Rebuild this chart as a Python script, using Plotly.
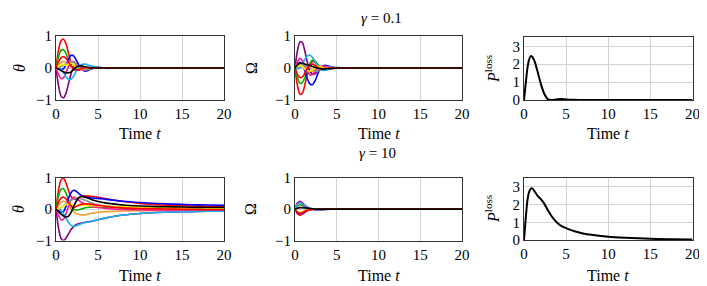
import plotly.graph_objects as go

# the page body adds an 8 px margin; the figure is sized and placed to compensate
OFF = 8
W, H = 707 - OFF, 286 - OFF

# ---------------- data ----------------
T = [0, 0.3, 0.6, 0.9, 1.2, 1.5, 1.8, 2.1, 2.4, 2.7, 3.0, 3.5, 4.0, 4.5, 5.0, 6.0, 7.0, 8.0, 10, 12, 14, 16, 18, 20]

series_names = ["red", "green", "blue", "orange", "purple", "magenta", "cyan", "gray", "yellow", "red2", "black"]
series_colors = ["#ff0000", "#00b400", "#0000ff", "#f0a030", "#800080", "#ff1493", "#1ab0f0", "#909090", "#f5f500", "#ff0000", "#000000"]

# theta, gamma = 0.1
theta_g01 = {
    "red":     [0, 0.55, 0.85, 0.9, 0.75, 0.45, 0.15, -0.03, -0.08, -0.07, -0.04, 0.0, 0.02, 0.01, 0, 0, 0, 0, 0, 0, 0, 0, 0, 0],
    "green":   [0, 0.35, 0.55, 0.57, 0.45, 0.25, 0.08, -0.02, -0.05, -0.04, -0.02, 0.01, 0.01, 0, 0, 0, 0, 0, 0, 0, 0, 0, 0, 0],
    "blue":    [0, -0.03, -0.05, -0.02, 0.1, 0.28, 0.4, 0.38, 0.25, 0.1, -0.02, -0.1, -0.05, 0.0, 0.02, 0, 0, 0, 0, 0, 0, 0, 0, 0],
    "orange":  [0, 0.1, 0.18, 0.2, 0.15, 0.08, 0.05, 0.08, 0.1, 0.05, -0.02, -0.05, -0.02, 0, 0, 0, 0, 0, 0, 0, 0, 0, 0, 0],
    "purple":  [0, -0.55, -0.88, -0.93, -0.78, -0.48, -0.17, 0.02, 0.08, 0.07, 0.04, 0.0, -0.02, -0.01, 0, 0, 0, 0, 0, 0, 0, 0, 0, 0],
    "magenta": [0, -0.2, -0.33, -0.3, -0.15, 0.05, 0.18, 0.2, 0.12, 0.02, -0.05, -0.05, 0.0, 0.02, 0.01, 0, 0, 0, 0, 0, 0, 0, 0, 0],
    "cyan":    [0, 0.02, -0.05, -0.15, -0.28, -0.36, -0.35, -0.25, -0.1, 0.03, 0.1, 0.12, 0.08, 0.05, 0.02, -0.01, 0, 0, 0, 0, 0, 0, 0, 0],
    "gray":    [0, 0.02, 0.05, 0.08, 0.12, 0.18, 0.2, 0.18, 0.12, 0.05, -0.02, -0.05, -0.03, 0, 0.01, 0, 0, 0, 0, 0, 0, 0, 0, 0],
    "yellow":  [0, 0.05, 0.1, 0.1, 0.08, 0.12, 0.15, 0.1, 0.02, -0.03, -0.03, 0, 0.01, 0, 0, 0, 0, 0, 0, 0, 0, 0, 0, 0],
    "red2":    [0, 0.2, 0.32, 0.35, 0.3, 0.18, 0.06, -0.02, -0.05, -0.04, -0.02, 0.01, 0, 0, 0, 0, 0, 0, 0, 0, 0, 0, 0, 0],
    "black":   [0, -0.03, -0.08, -0.12, -0.15, -0.15, -0.12, -0.05, 0.02, 0.06, 0.07, 0.04, 0.01, 0, 0, 0, 0, 0, 0, 0, 0, 0, 0, 0],
}

# Omega, gamma = 0.1
omega_g01 = {
    "red":     [0, -0.55, -0.82, -0.78, -0.5, -0.15, 0.1, 0.2, 0.18, 0.1, 0.03, -0.04, -0.04, -0.02, 0, 0, 0, 0, 0, 0, 0, 0, 0, 0],
    "green":   [0, -0.3, -0.48, -0.45, -0.28, -0.05, 0.15, 0.25, 0.22, 0.12, 0.03, -0.03, -0.03, -0.01, 0, 0, 0, 0, 0, 0, 0, 0, 0, 0],
    "blue":    [0, 0.12, 0.18, 0.1, -0.1, -0.35, -0.5, -0.52, -0.4, -0.2, -0.03, 0.08, 0.06, 0.02, 0, 0, 0, 0, 0, 0, 0, 0, 0, 0],
    "orange":  [0, 0.08, 0.1, 0.05, -0.05, -0.12, -0.15, -0.1, 0.0, 0.05, 0.05, 0.02, 0, 0, 0, 0, 0, 0, 0, 0, 0, 0, 0, 0],
    "purple":  [0, 0.55, 0.82, 0.78, 0.5, 0.15, -0.1, -0.2, -0.18, -0.1, -0.03, 0.04, 0.04, 0.02, 0, 0, 0, 0, 0, 0, 0, 0, 0, 0],
    "magenta": [0, 0.2, 0.3, 0.22, 0.05, -0.12, -0.22, -0.2, -0.1, 0.0, 0.05, 0.05, 0.02, 0, 0, 0, 0, 0, 0, 0, 0, 0, 0, 0],
    "cyan":    [0, -0.03, 0.0, 0.12, 0.28, 0.38, 0.4, 0.33, 0.2, 0.05, -0.05, -0.08, -0.04, 0.0, 0.02, 0, 0, 0, 0, 0, 0, 0, 0, 0],
    "gray":    [0, 0.02, 0.05, 0.08, 0.08, 0.05, 0.0, -0.05, -0.1, -0.1, -0.06, 0.0, 0.03, 0.02, 0, 0, 0, 0, 0, 0, 0, 0, 0, 0],
    "yellow":  [0, 0.05, 0.08, 0.05, -0.02, -0.08, -0.1, -0.05, 0.02, 0.05, 0.04, 0, 0, 0, 0, 0, 0, 0, 0, 0, 0, 0, 0, 0],
    "red2":    [0, -0.2, -0.3, -0.28, -0.15, 0.0, 0.1, 0.12, 0.08, 0.02, -0.02, -0.02, 0, 0, 0, 0, 0, 0, 0, 0, 0, 0, 0, 0],
    "black":   [0, 0.1, 0.15, 0.15, 0.12, 0.1, 0.08, 0.05, 0.02, 0.0, -0.02, -0.03, -0.02, -0.01, 0, 0, 0, 0, 0, 0, 0, 0, 0, 0],
}

# theta, gamma = 10
theta_g10 = {
    "red":     [0, 0.6, 0.93, 0.98, 0.82, 0.58, 0.4, 0.32, 0.32, 0.36, 0.4, 0.42, 0.41, 0.4, 0.38, 0.33, 0.28, 0.24, 0.18, 0.14, 0.12, 0.1, 0.09, 0.08],
    "green":   [0, 0.42, 0.63, 0.65, 0.5, 0.28, 0.1, 0.0, -0.03, -0.02, 0.0, 0.04, 0.06, 0.07, 0.07, 0.06, 0.05, 0.04, 0.03, 0.02, 0.01, 0.01, 0.0, 0.0],
    "blue":    [0, -0.05, -0.1, -0.08, 0.1, 0.35, 0.53, 0.6, 0.57, 0.5, 0.44, 0.38, 0.36, 0.35, 0.34, 0.31, 0.28, 0.25, 0.21, 0.18, 0.16, 0.14, 0.13, 0.12],
    "orange":  [0, 0.12, 0.22, 0.25, 0.2, 0.1, 0.0, -0.08, -0.14, -0.17, -0.18, -0.18, -0.15, -0.12, -0.1, -0.08, -0.07, -0.06, -0.05, -0.05, -0.04, -0.04, -0.04, -0.04],
    "purple":  [0, -0.6, -0.93, -1.0, -0.92, -0.78, -0.65, -0.56, -0.5, -0.47, -0.45, -0.42, -0.4, -0.37, -0.34, -0.28, -0.23, -0.19, -0.14, -0.11, -0.09, -0.08, -0.07, -0.06],
    "magenta": [0, -0.2, -0.34, -0.32, -0.15, 0.1, 0.3, 0.38, 0.35, 0.28, 0.22, 0.15, 0.1, 0.07, 0.05, 0.02, 0.0, -0.01, -0.02, -0.03, -0.03, -0.03, -0.03, -0.03],
    "cyan":    [0, 0.02, -0.05, -0.15, -0.3, -0.43, -0.52, -0.55, -0.53, -0.5, -0.47, -0.43, -0.4, -0.37, -0.34, -0.28, -0.23, -0.19, -0.14, -0.11, -0.09, -0.08, -0.07, -0.07],
    "gray":    [0, 0.02, 0.05, 0.1, 0.16, 0.22, 0.28, 0.32, 0.35, 0.35, 0.33, 0.28, 0.22, 0.17, 0.13, 0.09, 0.06, 0.05, 0.03, 0.03, 0.02, 0.02, 0.02, 0.02],
    "yellow":  [0, 0.03, 0.06, 0.1, 0.14, 0.16, 0.15, 0.13, 0.12, 0.12, 0.12, 0.12, 0.11, 0.11, 0.1, 0.09, 0.08, 0.07, 0.06, 0.05, 0.04, 0.04, 0.03, 0.03],
    "red2":    [0, 0.22, 0.35, 0.38, 0.32, 0.2, 0.1, 0.06, 0.08, 0.12, 0.15, 0.17, 0.16, 0.14, 0.12, 0.09, 0.06, 0.04, 0.02, 0.01, 0, -0.01, -0.02, -0.02],
    "black":   [0, -0.08, -0.16, -0.22, -0.25, -0.22, -0.1, 0.08, 0.25, 0.36, 0.4, 0.38, 0.33, 0.28, 0.24, 0.19, 0.16, 0.13, 0.1, 0.08, 0.07, 0.06, 0.05, 0.05],
}

# Omega, gamma = 10
omega_g10 = {
    "red":     [0, -0.15, -0.2, -0.16, -0.1, -0.05, -0.02, 0, 0.01, 0.01, 0, 0, 0, 0, 0, 0, 0, 0, 0, 0, 0, 0, 0, 0],
    "green":   [0, 0.1, 0.14, 0.12, 0.08, 0.04, 0.02, 0.0, -0.01, -0.01, 0, 0, 0, 0, 0, 0, 0, 0, 0, 0, 0, 0, 0, 0],
    "blue":    [0, -0.12, -0.15, -0.12, -0.07, -0.03, -0.01, 0.0, 0.01, 0.01, 0, 0, 0, 0, 0, 0, 0, 0, 0, 0, 0, 0, 0, 0],
    "orange":  [0, 0.05, 0.06, 0.05, 0.03, 0.01, 0, -0.01, -0.01, 0, 0, 0, 0, 0, 0, 0, 0, 0, 0, 0, 0, 0, 0, 0],
    "purple":  [0, 0.2, 0.25, 0.2, 0.12, 0.06, 0.02, 0.0, -0.02, -0.03, -0.03, -0.02, -0.01, 0, 0, 0, 0, 0, 0, 0, 0, 0, 0, 0],
    "magenta": [0, 0.18, 0.22, 0.16, 0.08, 0.02, -0.01, -0.02, -0.02, -0.01, 0, 0, 0, 0, 0, 0, 0, 0, 0, 0, 0, 0, 0, 0],
    "cyan":    [0, 0.15, 0.2, 0.17, 0.12, 0.07, 0.03, 0.0, -0.02, -0.02, -0.02, -0.01, 0, 0, 0, 0, 0, 0, 0, 0, 0, 0, 0, 0],
    "gray":    [0, 0.03, 0.04, 0.03, 0.02, 0.01, 0, 0, 0, 0, 0, 0, 0, 0, 0, 0, 0, 0, 0, 0, 0, 0, 0, 0],
    "yellow":  [0, -0.08, -0.1, -0.08, -0.05, -0.02, 0, 0.01, 0.01, 0, 0, 0, 0, 0, 0, 0, 0, 0, 0, 0, 0, 0, 0, 0],
    "red2":    [0, -0.1, -0.13, -0.1, -0.06, -0.03, -0.01, 0, 0, 0, 0, 0, 0, 0, 0, 0, 0, 0, 0, 0, 0, 0, 0, 0],
    "black":   [0, 0.03, 0.05, 0.05, 0.04, 0.03, 0.02, 0.01, 0.0, 0.0, 0, 0, 0, 0, 0, 0, 0, 0, 0, 0, 0, 0, 0, 0],
}

T_P = [0, 0.2, 0.4, 0.6, 0.8, 1.0, 1.3, 1.6, 2.0, 2.4, 2.8, 3.2, 3.6, 4.0, 4.5, 5, 6, 7, 8, 10, 12, 15, 20]
ploss_g01 = [0, 0.9, 1.75, 2.25, 2.45, 2.4, 2.1, 1.6, 0.9, 0.35, 0.06, 0.0, 0.01, 0.04, 0.05, 0.03, 0.01, 0, 0, 0, 0, 0, 0]
ploss_g10 = [0, 1.2, 2.2, 2.7, 2.88, 2.9, 2.7, 2.5, 2.3, 2.05, 1.7, 1.4, 1.15, 0.95, 0.78, 0.68, 0.5, 0.38, 0.3, 0.2, 0.14, 0.08, 0.04]

x_ticks = [0, 5, 10, 15, 20]
y_ticks_state = [-1, 0, 1]
y_ticks_state_text = ["\u22121", "0", "1"]
y_ticks_p = [0, 1, 2, 3]

# ---------------- figure ----------------
FONT = "Liberation Serif"
fig = go.Figure()

def px_x(p):
    return (p - OFF) / W

def px_y(p):
    return 1 - (p - OFF) / H

# panel boxes in screen pixels: (left, right, top, bottom)
boxes = {
    1: (56, 224, 36, 100),
    2: (295, 462, 36, 100),
    3: (524, 692.5, 37.3, 100),
    4: (56, 224, 177.7, 240.5),
    5: (295, 462, 177.7, 240.5),
    6: (524, 692.5, 177.7, 240.2),
}

def add_state(idx, data, width=1.6):
    for name, col in zip(series_names, series_colors):
        fig.add_trace(go.Scatter(
            x=T, y=data[name], mode="lines",
            line=dict(color=col, width=width, shape="spline", smoothing=0.8),
            xaxis=f"x{idx}", yaxis=f"y{idx}", showlegend=False, hoverinfo="skip"))

add_state(1, theta_g01)
add_state(2, omega_g01)
add_state(4, theta_g10)
add_state(5, omega_g10)
fig.add_trace(go.Scatter(x=T_P, y=ploss_g01, mode="lines",
                         line=dict(color="black", width=2, shape="spline", smoothing=0.6),
                         xaxis="x3", yaxis="y3", showlegend=False))
fig.add_trace(go.Scatter(x=T_P, y=ploss_g10, mode="lines",
                         line=dict(color="black", width=2, shape="spline", smoothing=0.6),
                         xaxis="x6", yaxis="y6", showlegend=False))

layout = dict(
    template="none",
    width=W, height=H, margin=dict(l=0, r=0, t=0, b=0, autoexpand=False),
    paper_bgcolor="white", plot_bgcolor="white",
    font=dict(family=FONT, size=14, color="black"),
)
for idx, (l, r, t, b) in boxes.items():
    xa = dict(domain=[px_x(l), px_x(r)], range=[0, 20], tickvals=x_ticks,
              showgrid=True, gridcolor="#d3d3d3", gridwidth=1,
              showline=True, linecolor="#333333", linewidth=1, mirror=True,
              zeroline=False, ticks="", automargin=False, anchor=f"y{idx}",
              tickfont=dict(size=15, family=FONT))
    if idx in (3, 6):
        ya = dict(domain=[px_y(b), px_y(t)], range=[0, 3.5], tickvals=y_ticks_p)
    else:
        ya = dict(domain=[px_y(b), px_y(t)], range=[-1, 1], tickvals=y_ticks_state,
                  ticktext=y_ticks_state_text)
    ya.update(showgrid=True, gridcolor="#d3d3d3", gridwidth=1,
              showline=True, linecolor="#333333", linewidth=1, mirror=True,
              zeroline=False, ticks="", automargin=False, anchor=f"x{idx}",
              tickfont=dict(size=15, family=FONT))
    key = "" if idx == 1 else str(idx)
    layout["xaxis" + key] = xa
    layout["yaxis" + key] = ya

annotations = []
# x-axis titles
for idx, (l, r, t, b) in boxes.items():
    ypix = 133 if idx <= 3 else 275
    annotations.append(dict(text="Time <i>t</i>", x=px_x((l + r) / 2), y=px_y(ypix),
                            xref="paper", yref="paper", showarrow=False,
                            xanchor="center", yanchor="middle", font=dict(size=16, family=FONT)))
# y-axis titles
ylabels = [
    ("<i>θ</i>", 19, 68), ("Ω", 251, 68), ("<i>P</i><sup>loss</sup>", 492, 69),
    ("<i>θ</i>", 19, 209), ("Ω", 251, 209), ("<i>P</i><sup>loss</sup>", 492, 209),
]
for txt, xp, yp in ylabels:
    annotations.append(dict(text=txt, x=px_x(xp), y=px_y(yp), xref="paper", yref="paper",
                            showarrow=False, textangle=-90, xanchor="center", yanchor="middle",
                            font=dict(size=16, family=FONT)))
# row titles
annotations.append(dict(text="<i>γ</i> = 0.1", x=px_x(381), y=px_y(18), xref="paper", yref="paper",
                        showarrow=False, xanchor="center", yanchor="middle", font=dict(size=15, family=FONT)))
annotations.append(dict(text="<i>γ</i> = 10", x=px_x(377), y=px_y(153), xref="paper", yref="paper",
                        showarrow=False, xanchor="center", yanchor="middle", font=dict(size=15, family=FONT)))
layout["annotations"] = annotations

fig.update_layout(**layout)
fig.write_html("out.html")
